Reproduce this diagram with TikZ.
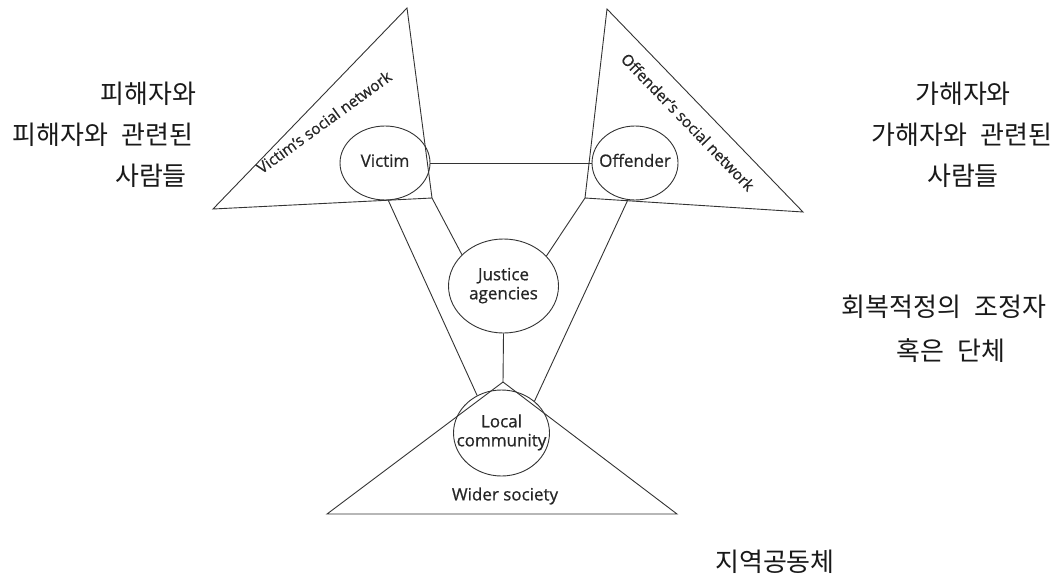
\documentclass[tikz,border=0pt]{standalone}
\usepackage{fontspec}
\setmainfont{Open Sans}[RawFeature={embolden=0.7}]
\newfontfamily\kr[WordSpace=2.2]{Noto Sans CJK KR}
\usetikzlibrary{shapes.geometric}
\newcommand\zw[1]{\makebox[0pt]{\begin{tabular}{@{}c@{}}#1\end{tabular}}}
\begin{document}
\begin{tikzpicture}[x=1pt,y=-1pt,
  ln/.style={draw=black!80, line width=0.9pt},
  oval/.style={ellipse, draw=black!80, line width=0.9pt, inner sep=0pt, text=black!85, font=\fontsize{17}{19}\selectfont},
  kt/.style={font=\kr\fontsize{26}{30}\selectfont, text=black!90, inner sep=0pt},
  net/.style={font=\fontsize{15.5}{17}\selectfont, text=black!85, inner sep=0pt},
  plain/.style={font=\fontsize{17}{19}\selectfont, text=black!85, inner sep=0pt}]
\useasboundingbox (0,0) rectangle (1064,578);
% triangles
\coordinate (vt) at (407,8);
\coordinate (vl) at (213,209);
\coordinate (vr) at (432,198);
\coordinate (ot) at (607,9);
\coordinate (ol) at (585,198);
\coordinate (or) at (803,212);
\coordinate (wa) at (503,382);
\coordinate (wl) at (327,514);
\coordinate (wr) at (677,514);
\draw[ln, line join=miter] (vt) -- (vl) -- (vr) -- cycle;
\draw[ln, line join=miter] (ot) -- (ol) -- (or) -- cycle;
\draw[ln, line join=miter] (wa) -- (wl) -- (wr) -- cycle;
% ovals
\node[oval, minimum width=90pt, minimum height=74pt] (victim) at (385,163) {\zw{Victim}};
\node[oval, minimum width=86pt, minimum height=74pt] (offender) at (635,163) {\zw{Offender}};
\node[oval, minimum width=110pt, minimum height=94pt] (justice) at (503.5,286) {\zw{Justice\\agencies}};
\node[oval, minimum width=96pt, minimum height=86pt] (lc) at (501.5,433) {\zw{Local\\community}};
\node[plain] (wider) at (505,496) {Wider society};
% network labels
\node[net, rotate=36] (vnet) at (324,122) {Victim’s social network};
\node[net, rotate=-46] (onet) at (688,122) {Offender’s social network};
% connectors
\draw[ln] (victim.east) -- (offender.west);
\draw[ln] (victim.-85) -- (lc.123);
\draw[ln] (vr) -- (justice.143);
\draw[ln] (ol) -- (justice.35);
\draw[ln] (offender.-101) -- (lc.44);
\draw[ln] (justice.south) -- (wa);
% Korean annotations
\node[kt] (vk1) at (148.5,94) {피해자와};
\node[kt] (vk2) at (103,135) {피해자와 관련된};
\node[kt] (vk3) at (151,176) {사람들};
\node[kt] (ok1) at (963,94) {가해자와};
\node[kt] (ok2) at (962,135) {가해자와 관련된};
\node[kt] (ok3) at (963,176) {사람들};
\node[kt] (jk1) at (944,307) {회복적정의 조정자};
\node[kt] (jk2) at (951,351) {혹은 단체};
\node[kt] (ck) at (775,562) {지역공동체};
\end{tikzpicture}
\end{document}
